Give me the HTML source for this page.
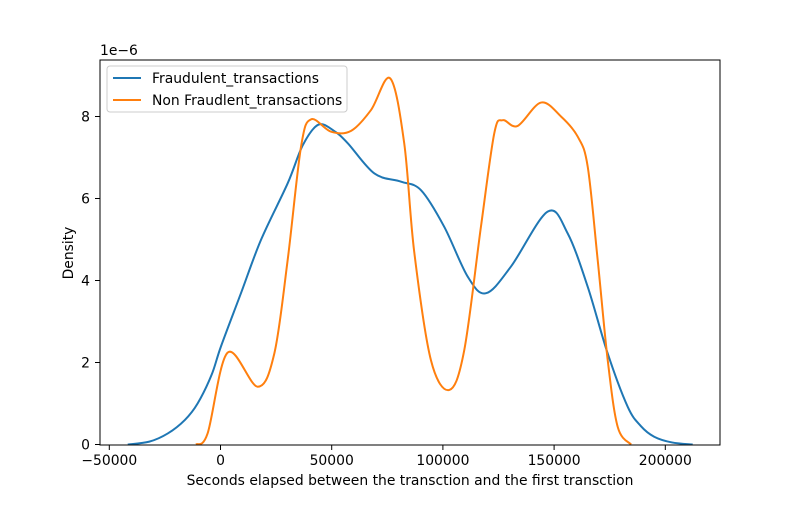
<!DOCTYPE html>
<html><head><meta charset="utf-8"><style>
body{margin:0;background:#fff;font-family:"Liberation Sans","DejaVu Sans",sans-serif}
svg text{font-family:"DejaVu Sans","Liberation Sans",sans-serif;font-size:13.9px;fill:#000}
</style></head><body>
<svg id="chart" width="800" height="500" viewBox="0 0 800 500" xmlns="http://www.w3.org/2000/svg">
<rect width="800" height="500" fill="#fff"/>
<g id="plot"></g>
<rect x="100" y="60" width="620" height="385" fill="none" stroke="#000" stroke-width="1"/>
<g id="xticks"></g><g id="yticks"></g>
<text x="410" y="485" text-anchor="middle">Seconds elapsed between the transction and the first transction</text>
<text transform="translate(73,253) rotate(-90)" text-anchor="middle">Density</text>
<text x="100" y="55">1e−6</text>
<g>
<rect x="107" y="66" width="240" height="46" rx="3" fill="#fff" fill-opacity="0.8" stroke="#ccc"/>
<line x1="113" y1="78" x2="141" y2="78" stroke="#1f77b4" stroke-width="2"/>
<text x="152" y="83">Fraudulent_transactions</text>
<line x1="113" y1="100" x2="141" y2="100" stroke="#ff7f0e" stroke-width="2"/>
<text x="152" y="105">Non Fraudlent_transactions</text>
</g>
</svg>
<script>
const fraudX=[-41.7,-32,-23.7,-16,-10.3,-4,0.2,9.2,18.2,30.2,37,44,51,57.2,69.2,81.2,90.2,100.6,111.2,119.4,130.6,147.1,156.1,165.1,174.1,183.1,189,195,203,212.3];
const fraudY=[0,0.07,0.27,0.6,1.0,1.7,2.39,3.69,4.99,6.37,7.3,7.8,7.65,7.35,6.61,6.41,6.2,5.31,4.09,3.69,4.34,5.68,5.15,3.85,2.22,0.92,0.45,0.19,0.05,0];
const nonX=[-11,-5.8,3.2,16.7,24.2,30.2,36.2,40.7,49.7,58.7,67.7,76.3,82.6,87.1,94.6,102.9,109.6,117.1,123.1,126.9,133.6,144.1,153.1,160.6,165.1,169.6,174.1,178.6,184.6];
const nonY=[0,0.27,2.24,1.41,2.22,4.5,7.26,7.93,7.63,7.65,8.16,8.93,7.35,4.7,2.06,1.33,2.3,5.31,7.59,7.91,7.77,8.34,8.0,7.51,6.78,4.5,2.06,0.43,0];
const xTicks=[-50000,0,50000,100000,150000,200000];
const yTicks=[0,2,4,6,8];
const NS="http://www.w3.org/2000/svg";
function sx(v){return 220.5+v*111.2/50000;}
function sy(d){return 444.5-d*41;}
function path(xs,ys){
  const p=xs.map((x,i)=>[sx(x*1000),sy(ys[i])]);
  let d="M"+p[0][0]+","+p[0][1];
  for(let i=0;i<p.length-1;i++){
    const p0=p[i-1]||p[i],p1=p[i],p2=p[i+1],p3=p[i+2]||p2;
    d+=" C"+(p1[0]+(p2[0]-p0[0])/6)+","+(p1[1]+(p2[1]-p0[1])/6)+" "+(p2[0]-(p3[0]-p1[0])/6)+","+(p2[1]-(p3[1]-p1[1])/6)+" "+p2[0]+","+p2[1];
  }
  return d;
}
const plot=document.getElementById("plot");
[[fraudX,fraudY,"#1f77b4","fraud-density-line"],[nonX,nonY,"#ff7f0e","nonfraud-density-line"]].forEach(s=>{
  const el=document.createElementNS(NS,"path");
  el.setAttribute("d",path(s[0],s[1]));
  el.setAttribute("fill","none");el.setAttribute("stroke",s[2]);el.setAttribute("stroke-width","2");
  
  
  plot.appendChild(el);
});
const xg=document.getElementById("xticks");
xTicks.forEach(v=>{
  const x=sx(v);
  const l=document.createElementNS(NS,"line");
  l.setAttribute("x1",x);l.setAttribute("x2",x);l.setAttribute("y1",445);l.setAttribute("y2",450);l.setAttribute("stroke","#000");
  
  
  xg.appendChild(l);
  const t=document.createElementNS(NS,"text");
  t.setAttribute("x",x);t.setAttribute("y",465);t.setAttribute("text-anchor","middle");
  t.textContent=String(v).replace("-","−");
  
  
  xg.appendChild(t);
});
const yg=document.getElementById("yticks");
yTicks.forEach(v=>{
  const y=sy(v);
  const l=document.createElementNS(NS,"line");
  l.setAttribute("x1",95);l.setAttribute("x2",100);l.setAttribute("y1",y);l.setAttribute("y2",y);l.setAttribute("stroke","#000");
  
  
  yg.appendChild(l);
  const t=document.createElementNS(NS,"text");
  t.setAttribute("x",90);t.setAttribute("y",y+5);t.setAttribute("text-anchor","end");
  t.textContent=v;
  
  
  yg.appendChild(t);
});
</script>
</body></html>
